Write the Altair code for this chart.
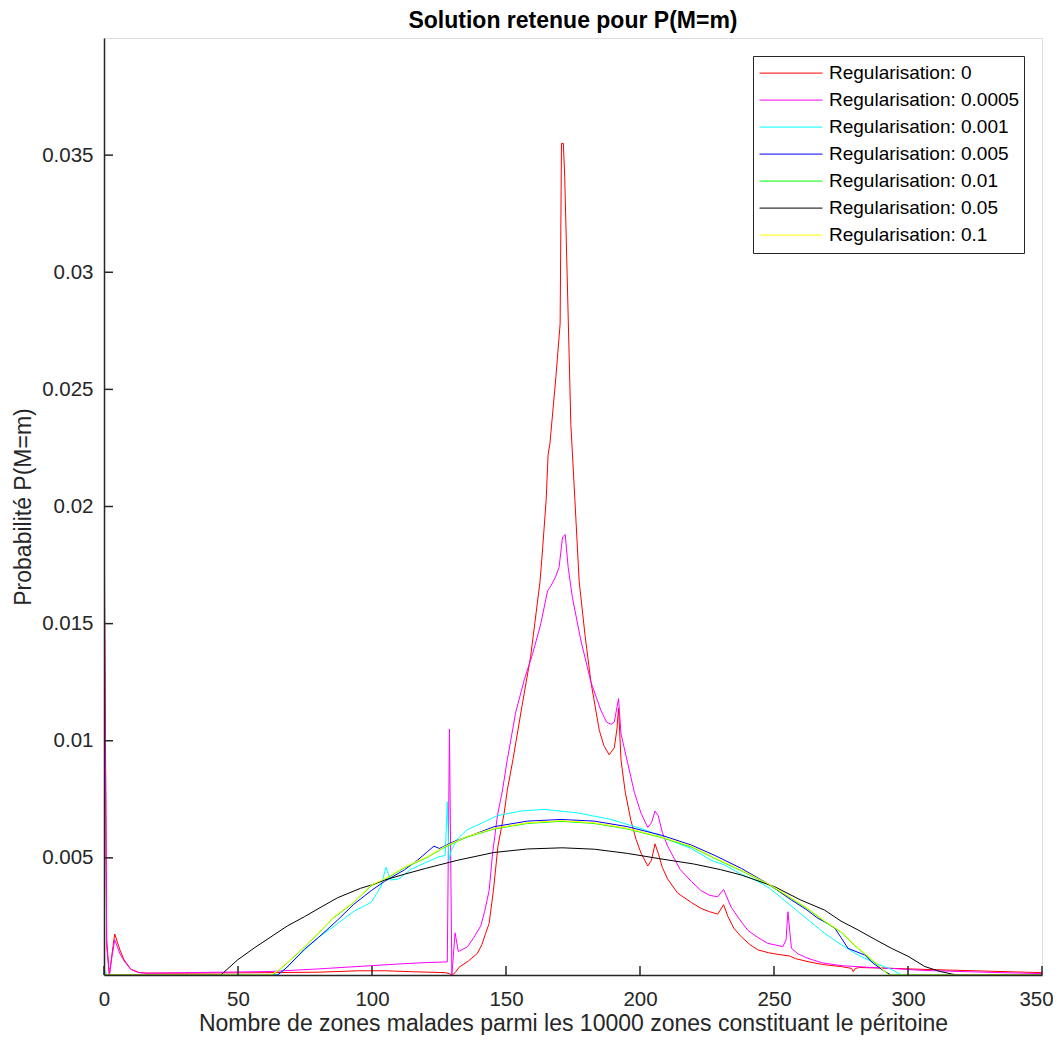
import altair as alt
import pandas as pd

FONT = "Liberation Sans"

series_names = [
    "Regularisation: 0",
    "Regularisation: 0.0005",
    "Regularisation: 0.001",
    "Regularisation: 0.005",
    "Regularisation: 0.01",
    "Regularisation: 0.05",
    "Regularisation: 0.1",
]
series_colors = ["#ff0000", "#ff00ff", "#00ffff", "#0000ff", "#00ff00", "#000000", "#ffff00"]

reg_0 = [
    (0, 0.0207), (1, 0.0015), (2, 0.0), (3, 0.0009), (4, 0.00175), (5, 0.0014), (6, 0.00105),
    (7.5, 0.00064), (10, 0.00025), (13, 0.00011), (16, 0.00008), (30, 0.00008), (60, 0.0001),
    (80, 0.00012), (95, 0.00018), (105, 0.00018), (115, 0.00014), (127.5, 0.0001), (129, 0.00005),
    (130, 0.0), (131, 0.0001), (132.5, 0.00033), (136, 0.0006), (139.3, 0.00092), (141, 0.0013),
    (142.4, 0.00178), (143.7, 0.0022), (145.3, 0.0036), (147, 0.0055), (149.3, 0.0069),
    (150.5, 0.0079), (152.6, 0.0092), (156, 0.0115), (159.2, 0.0136), (162.7, 0.0168),
    (163.6, 0.0181), (165, 0.0203), (165.7, 0.0222), (166.4, 0.0227), (168.6, 0.0255),
    (170.2, 0.0278), (170.7, 0.0355), (171.4, 0.0355), (171.9, 0.0341), (174.2, 0.0235),
    (175.7, 0.0203), (177.3, 0.0168), (179.5, 0.0145), (181.7, 0.0125), (184.8, 0.01045),
    (186.5, 0.0098), (188.5, 0.0094), (190.4, 0.0097), (191.4, 0.0105), (192, 0.0114),
    (192.9, 0.0092), (194.5, 0.0078), (196.6, 0.0066), (198.5, 0.0058), (200.4, 0.0052),
    (202.9, 0.00465), (204.3, 0.0049), (205.6, 0.0056), (206.8, 0.0052), (208.3, 0.0046),
    (210.3, 0.0041), (214, 0.0035), (219.1, 0.0031), (222.8, 0.00284), (226, 0.0027),
    (229, 0.0026), (231.2, 0.003), (232.8, 0.0025), (235, 0.002), (237.8, 0.00163), (241, 0.0013),
    (244, 0.00107), (248, 0.00095), (251.5, 0.00088), (255.8, 0.00081), (258, 0.0007),
    (262.7, 0.00057), (268, 0.00045), (275.1, 0.00036), (279, 0.00028), (279.6, 0.00014),
    (280.3, 0.00028), (282, 0.00032), (295, 0.00028), (306, 0.00024), (325, 0.00018), (350, 0.0001),
]

reg_0_0005 = [
    (0, 0.0187), (1, 0.0012), (2, 0.0), (3, 0.0008), (4, 0.0015), (5, 0.0012), (6, 0.0009),
    (7.5, 0.0006), (10, 0.00024), (13, 0.0001), (16, 0.00008), (30, 0.0001), (50, 0.00013),
    (62, 0.00015), (80, 0.00026), (100, 0.0004), (110, 0.00047), (120, 0.00053), (128.1, 0.00056),
    (128.9, 0.0105), (129.8, 0.0), (131, 0.0018), (132.2, 0.001), (135.6, 0.0012), (138, 0.0016),
    (140.6, 0.0021), (142, 0.0027), (143.7, 0.0036), (145, 0.0052), (146.8, 0.0068),
    (148.7, 0.0079), (150.5, 0.0092), (153.6, 0.0112), (156.8, 0.0126), (159.9, 0.0137),
    (163, 0.015), (165.5, 0.0164), (166.7, 0.0166), (168.5, 0.017), (169.8, 0.0174),
    (171.1, 0.0187), (172.1, 0.0188), (173.2, 0.0174), (174.8, 0.0161), (177.9, 0.0143),
    (181.7, 0.0125), (185.4, 0.0113), (187.5, 0.0108), (189.2, 0.0107), (190.4, 0.0108),
    (192, 0.0118), (192.9, 0.0103), (194.1, 0.0097), (197.9, 0.0078), (200.4, 0.0069),
    (202.9, 0.0063), (204.3, 0.0065), (205.6, 0.007), (206.8, 0.0068), (208.3, 0.0061),
    (210.3, 0.0055), (215, 0.0045), (219.1, 0.004), (222.8, 0.0036), (226, 0.0034),
    (229, 0.00334), (231.2, 0.00365), (234, 0.0029), (237, 0.0024), (240.3, 0.0019),
    (244, 0.0016), (247.7, 0.00135), (253.3, 0.00121), (254.5, 0.0015), (255.2, 0.0027),
    (256.5, 0.00114), (259, 0.0009), (262.7, 0.00071), (268, 0.00052), (275, 0.0004),
    (285, 0.00033), (294, 0.00028), (305, 0.0002), (319, 0.00015), (335, 0.0001), (350, 0.00006),
]

reg_0_001 = [
    (0, 0.0002), (1.5, 0.0), (64.8, 0.0), (68, 0.0003), (74.8, 0.00107), (80, 0.0016),
    (87.2, 0.0022), (93, 0.0027), (99.7, 0.0031), (101.9, 0.0035), (103.4, 0.0038),
    (105.2, 0.0046), (106.9, 0.00405), (110, 0.0041), (114.4, 0.0045), (120, 0.0048),
    (125, 0.00505), (127.3, 0.0051), (128.1, 0.0074), (128.7, 0.0049), (129.5, 0.0053),
    (131.8, 0.0058), (135.5, 0.0062), (139.3, 0.0064), (146.8, 0.0068), (155.5, 0.007),
    (164.2, 0.00707), (176.7, 0.00692), (189.2, 0.00664), (201.6, 0.00621), (214.1, 0.00562),
    (219.1, 0.0054), (226.5, 0.0049), (231.5, 0.0047), (237.8, 0.0043), (244, 0.004),
    (248.4, 0.0037), (258, 0.0028), (268.9, 0.00178), (275, 0.0013), (281.4, 0.00085),
    (288, 0.0005), (293.8, 0.00024), (297.6, 0.0), (350, 0.0),
]

reg_0_005 = [
    (0, 0.0), (64.8, 0.0), (68, 0.0003), (74.8, 0.0011), (80, 0.0016), (87.2, 0.00235),
    (93, 0.003), (99.7, 0.0036), (104.7, 0.004), (112, 0.00448), (117, 0.0049), (120.6, 0.00526),
    (123.1, 0.0055), (125.2, 0.0054), (130.6, 0.0057), (138, 0.006), (145.5, 0.00633),
    (158, 0.00657), (170.5, 0.00664), (182.9, 0.00657), (195.4, 0.00633), (207.9, 0.00597),
    (219.1, 0.00555), (228, 0.0051), (237.8, 0.00455), (247.7, 0.0039), (256.5, 0.0032),
    (262, 0.0028), (266.4, 0.00242), (270, 0.0022), (272.7, 0.002), (275, 0.0016),
    (277.6, 0.00114), (283.9, 0.00085), (287, 0.0005), (291.3, 0.00015), (293.8, 0.0), (350, 0.0),
]

reg_0_01 = [
    (0, 0.0), (62.8, 0.0), (65, 0.00018), (68, 0.00048), (74.8, 0.00119), (80, 0.00178),
    (85.4, 0.00242), (87.2, 0.00257), (93, 0.00308), (99.7, 0.00381), (104.7, 0.00407),
    (108.2, 0.00431), (112, 0.00457), (120.6, 0.00502), (126.9, 0.00544), (135, 0.00587),
    (145.5, 0.00623), (158, 0.00647), (170.5, 0.00656), (182.9, 0.00647), (195.4, 0.00623),
    (207.9, 0.00587), (219.1, 0.00547), (228, 0.00497), (237.8, 0.00445), (247.7, 0.00387),
    (255, 0.00337), (262.7, 0.00281), (269, 0.00227), (275.1, 0.00182), (280, 0.00127),
    (283.9, 0.00089), (288.9, 0.0004), (293, 0.0), (350, 0.0),
]

reg_0_05 = [
    (0, 0.0), (43.6, 0.0), (49.8, 0.00064), (56, 0.00115), (62.3, 0.00163), (68.5, 0.0021),
    (74.8, 0.00249), (81, 0.0029), (87.2, 0.0033), (95.7, 0.0037), (99.7, 0.00384),
    (104.7, 0.00405), (112, 0.0043), (120, 0.00455), (132, 0.0049), (145.5, 0.00523),
    (158, 0.00538), (171, 0.00543), (183, 0.00537), (195.4, 0.00519), (207, 0.00497),
    (220, 0.00474), (230, 0.0045), (237.8, 0.00427), (250.2, 0.00377), (260, 0.0032),
    (268.9, 0.00277), (275, 0.0023), (281.4, 0.00192), (288, 0.0015), (293.8, 0.00114),
    (300, 0.0008), (306.3, 0.00036), (312, 0.00015), (318.1, 0.0), (350, 0.0),
]

reg_0_1 = [
    (0, 0.0), (62.3, 0.0), (65, 0.0002), (68, 0.0005), (74.8, 0.00121), (80, 0.0018),
    (85.4, 0.00245), (87.2, 0.0026), (93, 0.0031), (99.7, 0.00384), (104.7, 0.0041),
    (108.2, 0.00434), (112, 0.0046), (120.6, 0.00505), (126.9, 0.00547), (135, 0.0059),
    (145.5, 0.00626), (158, 0.0065), (170.5, 0.00659), (182.9, 0.0065), (195.4, 0.00626),
    (207.9, 0.0059), (219.1, 0.0055), (228, 0.005), (237.8, 0.00448), (247.7, 0.0039),
    (255, 0.0034), (262.7, 0.00284), (269, 0.0023), (275.1, 0.00185), (280, 0.0013),
    (283.9, 0.00092), (288.9, 0.00043), (292.6, 0.0), (350, 0.0),
]

all_series = [reg_0, reg_0_0005, reg_0_001, reg_0_005, reg_0_01, reg_0_05, reg_0_1]

x_ticks = [0, 50, 100, 150, 200, 250, 300, 350]
y_ticks = [0.005, 0.01, 0.015, 0.02, 0.025, 0.03, 0.035]

rows = []
for name, pts in zip(series_names, all_series):
    for m, p in pts:
        rows.append({"series": name, "m": m, "p": p})
df = pd.DataFrame(rows)

W, H = 938, 937
AX = "#262626"

xscale = alt.Scale(domain=[0, 350], nice=False, zero=False)
yscale = alt.Scale(domain=[0, 0.04], nice=False, zero=False)

x_axis = alt.Axis(
    values=x_ticks, tickSize=0, labelPadding=14, labelFontSize=20.5, labelFont=FONT,
    labelColor=AX, title="Nombre de zones malades parmi les 10000 zones constituant le péritoine",
    titleFontSize=23, titleFont=FONT, titleFontWeight="normal", titleColor=AX,
    titleBaseline="alphabetic", titleY=55, domainColor=AX, domainWidth=1.5, grid=False, zindex=1,
    labelFlush=False,
    labelOffset={"condition": {"test": "datum.value == 350", "value": -6}, "value": 0},
)
y_axis = alt.Axis(
    values=y_ticks, format="~g", tickSize=0, labelPadding=11, labelFontSize=20.5, labelFont=FONT,
    labelColor=AX, title="Probabilité P(M=m)", titleFontSize=23, titleFont=FONT,
    titleFontWeight="normal", titleColor=AX, titleBaseline="alphabetic", titleX=-74,
    titleY=H / 2, domainColor=AX, domainWidth=1.5, grid=False, zindex=1, labelFlush=False,
)

color = alt.Color(
    "series:N",
    scale=alt.Scale(domain=series_names, range=series_colors),
    sort=series_names,
    legend=alt.Legend(
        title=None, orient="top-right", offset=18, symbolType="stroke", symbolSize=3969,
        symbolStrokeWidth=1, clipHeight=26.2, rowPadding=0, padding=4, symbolOffset=2,
        labelOffset=6, labelFontSize=19, labelFont=FONT, labelColor="#000000", labelLimit=400,
        fillColor="#ffffff", strokeColor=AX,
    ),
)

layers = []
for name in series_names:
    layers.append(
        alt.Chart(df)
        .transform_filter(alt.datum.series == name)
        .mark_line(strokeWidth=1, clip=True)
        .encode(
            x=alt.X("m:Q", scale=xscale, axis=x_axis),
            y=alt.Y("p:Q", scale=yscale, axis=y_axis),
            color=color,
        )
    )

xt = pd.DataFrame({"m": x_ticks})
yt = pd.DataFrame({"p": y_ticks})
xtick_layer = alt.Chart(xt).mark_rule(color=AX, strokeWidth=1.5).encode(
    x=alt.X("m:Q", scale=xscale, axis=x_axis), y=alt.value(H), y2=alt.value(H - 9)
)
ytick_layer = alt.Chart(yt).mark_rule(color=AX, strokeWidth=1.5).encode(
    y=alt.Y("p:Q", scale=yscale, axis=y_axis), x=alt.value(0), x2=alt.value(9)
)

chart = (
    alt.layer(*layers, xtick_layer, ytick_layer)
    .properties(
        width=W, height=H,
        title=alt.TitleParams(
            "Solution retenue pour P(M=m)", fontSize=23, fontWeight="bold", font=FONT,
            color="#000000", anchor="middle", offset=5,
        ),
        autosize=alt.AutoSizeParams(type="none"),
        padding={"left": 96, "top": 30, "right": 11, "bottom": 60},
    )
    .configure_view(stroke=None, strokeWidth=0)
    .configure(background="#ffffff")
)

chart.save("out.html", embed_options={"renderer": "svg", "actions": False})
